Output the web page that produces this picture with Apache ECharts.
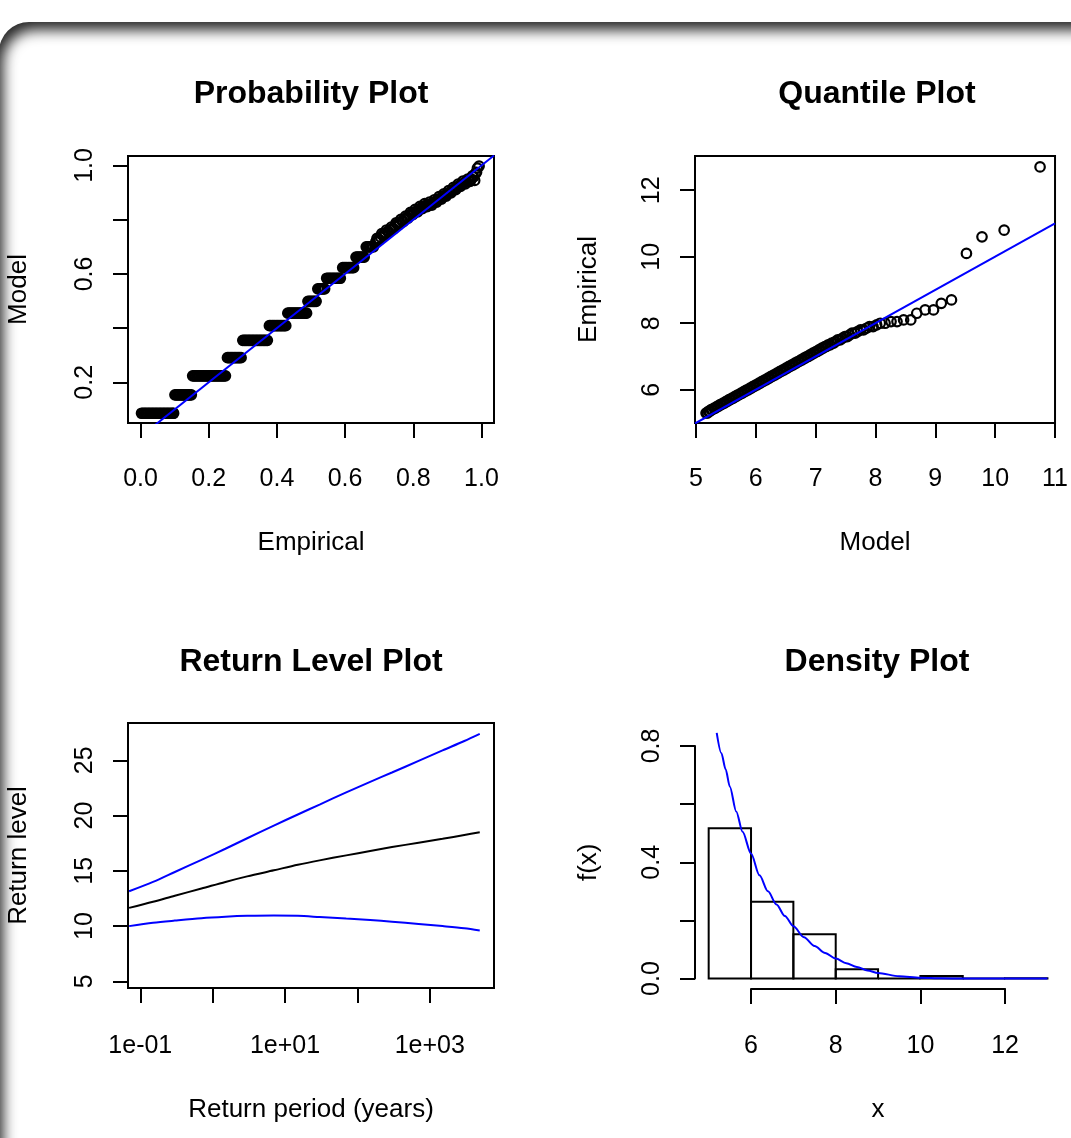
<!DOCTYPE html>
<html>
<head>
<meta charset="utf-8">
<script src="https://cdn.jsdelivr.net/npm/echarts@6/dist/echarts.min.js"></script>
<style>
  html, body { margin: 0; padding: 0; background: #fff; overflow: hidden; }
  #frame {
    position: absolute; left: -1px; top: 22px; width: 1300px; height: 1400px;
    border-radius: 30px;
    box-shadow: inset 6px 10px 14px -2px rgba(0, 0, 0, 0.85);
  }
  #chart { position: absolute; left: 0; top: 0; width: 1071px; height: 1138px; }
</style>
</head>
<body>
<div id="frame"></div>
<div id="chart"></div>
<script>
const FONT = 'Liberation Sans';

// Probability plot: tied observations share one model probability (the steps)
const probStepModel = [0.086, 0.154, 0.224, 0.291, 0.355, 0.409, 0.455, 0.499, 0.545, 0.584, 0.623, 0.662, 0.700];
const probStepEmpirical = [
  [0.003, 0.007, 0.011, 0.015, 0.019, 0.023, 0.027, 0.031, 0.035, 0.039, 0.043, 0.047, 0.051,
   0.055, 0.059, 0.063, 0.067, 0.071, 0.075, 0.079, 0.083, 0.087, 0.091, 0.095, 0.097],
  [0.101, 0.105, 0.109, 0.113, 0.117, 0.121, 0.125, 0.129, 0.133, 0.137, 0.141, 0.145, 0.149],
  [0.153, 0.157, 0.161, 0.165, 0.169, 0.173, 0.177, 0.181, 0.185, 0.189, 0.193, 0.197, 0.201,
   0.205, 0.209, 0.213, 0.217, 0.221, 0.225, 0.229, 0.233, 0.237, 0.241, 0.245, 0.249],
  [0.255, 0.259, 0.263, 0.267, 0.271, 0.275, 0.279, 0.283, 0.287, 0.291, 0.295],
  [0.300, 0.304, 0.308, 0.312, 0.316, 0.320, 0.324, 0.328, 0.332, 0.336, 0.340, 0.344, 0.348,
   0.352, 0.356, 0.360, 0.364, 0.368, 0.372],
  [0.378, 0.382, 0.386, 0.390, 0.394, 0.398, 0.402, 0.406, 0.410, 0.414, 0.418, 0.422, 0.426],
  [0.432, 0.436, 0.440, 0.444, 0.448, 0.452, 0.456, 0.460, 0.464, 0.468, 0.472, 0.476, 0.480, 0.484, 0.487],
  [0.491, 0.495, 0.499, 0.503, 0.507, 0.511, 0.515],
  [0.520, 0.524, 0.528, 0.532, 0.536, 0.540],
  [0.546, 0.550, 0.554, 0.558, 0.562, 0.566, 0.570, 0.574, 0.578, 0.582, 0.586],
  [0.593, 0.597, 0.601, 0.605, 0.609, 0.613, 0.617, 0.621, 0.625],
  [0.632, 0.636, 0.640, 0.644, 0.648, 0.652, 0.656],
  [0.662, 0.666, 0.670, 0.674, 0.678, 0.683]
];
// upper part of the probability plot (few ties): [empirical, model]
const probUpper = [
  [0.690, 0.718], [0.6935, 0.731], [0.697, 0.727], [0.7005, 0.726], [0.704, 0.736], [0.7075, 0.749],
  [0.711, 0.745], [0.7145, 0.742], [0.718, 0.750], [0.7215, 0.762], [0.725, 0.757], [0.7285, 0.754],
  [0.732, 0.762], [0.7355, 0.773], [0.739, 0.768], [0.7425, 0.766], [0.746, 0.776], [0.7495, 0.788],
  [0.753, 0.784], [0.7565, 0.781], [0.760, 0.790], [0.7635, 0.801], [0.767, 0.796], [0.7705, 0.793],
  [0.774, 0.802], [0.7775, 0.813], [0.781, 0.808], [0.7845, 0.806], [0.788, 0.816], [0.7915, 0.827],
  [0.795, 0.822], [0.7985, 0.819], [0.802, 0.827], [0.8055, 0.838], [0.809, 0.832], [0.8125, 0.829],
  [0.816, 0.838], [0.8195, 0.849], [0.823, 0.844], [0.8265, 0.841], [0.830, 0.849], [0.8335, 0.859],
  [0.837, 0.853], [0.8405, 0.848], [0.844, 0.855], [0.8475, 0.865], [0.851, 0.858], [0.8545, 0.854],
  [0.858, 0.862], [0.8615, 0.873], [0.865, 0.868], [0.8685, 0.865], [0.872, 0.874], [0.8755, 0.885],
  [0.879, 0.879], [0.8825, 0.876], [0.886, 0.884], [0.8895, 0.895], [0.893, 0.890], [0.8965, 0.887],
  [0.900, 0.896], [0.9035, 0.907], [0.907, 0.902], [0.9105, 0.899], [0.914, 0.908], [0.9175, 0.919],
  [0.921, 0.914], [0.9245, 0.911], [0.928, 0.920], [0.9315, 0.931], [0.935, 0.926], [0.9385, 0.923],
  [0.942, 0.931], [0.9455, 0.942], [0.949, 0.936], [0.9525, 0.932], [0.956, 0.940], [0.9595, 0.950],
  [0.963, 0.944], [0.9665, 0.941], [0.970, 0.950], [0.9735, 0.962], [0.977, 0.958], [0.980, 0.945],
  [0.983, 0.972], [0.9855, 0.975], [0.988, 0.990], [0.993, 0.998]
];

// Quantile plot: empirical values and the model quantiles of the tied observations
const qqLevels = [
  5.30, 5.35, 5.40, 5.45, 5.50, 5.55, 5.60, 5.65, 5.70, 5.75, 5.80, 5.85, 5.90, 5.95,
  6.00, 6.05, 6.10, 6.15, 6.20, 6.25, 6.30, 6.35, 6.40, 6.45, 6.50, 6.55, 6.60, 6.65,
  6.70, 6.75, 6.80, 6.85, 6.90, 6.95, 7.00, 7.05, 7.10, 7.15, 7.20, 7.25, 7.30, 7.35,
  7.40, 7.45, 7.50, 7.55, 7.60, 7.65, 7.70, 7.75, 7.80, 7.85, 7.90, 7.95, 8.00, 8.05,
  8.10, 8.30, 8.40, 8.60, 8.70, 10.1, 10.6, 10.8, 12.7
];
const qqModelByLevel = [
  [5.17, 5.19], [5.21, 5.23], [5.255, 5.275], [5.305, 5.325], [5.355, 5.375], [5.405, 5.425],
  [5.455, 5.475], [5.505, 5.525], [5.555, 5.575], [5.605, 5.625], [5.655, 5.675], [5.705, 5.725],
  [5.755, 5.775], [5.805, 5.825], [5.855, 5.875], [5.905, 5.925], [5.955, 5.975], [6.005, 6.025],
  [6.055, 6.075], [6.105, 6.125], [6.155, 6.175], [6.205, 6.225], [6.255, 6.275], [6.305, 6.325],
  [6.355, 6.375], [6.405, 6.425], [6.455, 6.475], [6.505, 6.525], [6.555, 6.575], [6.605, 6.625],
  [6.655, 6.675], [6.705, 6.725], [6.755, 6.775], [6.805, 6.825], [6.855, 6.875], [6.905, 6.925],
  [6.955, 6.975], [7.005, 7.025], [7.055, 7.075], [7.105, 7.125], [7.155, 7.175], [7.21, 7.24],
  [7.27, 7.30], [7.33], [7.37, 7.41], [7.45], [7.49, 7.53], [7.57], [7.61, 7.66], [7.70],
  [7.75, 7.80], [7.85], [7.90, 7.96], [8.02], [8.08, 8.16], [8.26, 8.36],
  [8.47, 8.59], [8.69], [8.83, 8.97], [9.10], [9.27], [9.52], [9.78], [10.15], [10.75]
];

// Return level plot (return period in years, log axis)
const rlPeriod = [0.07, 0.15, 0.3, 0.7, 1.5, 3, 7, 15, 30, 70, 150, 300, 700, 1500, 3000, 4900];
const rlUpper = [13.15, 14.0, 14.9, 16.0, 17.0, 17.95, 19.1, 20.1, 21.0, 22.1, 23.05, 23.9, 24.95, 25.9, 26.75, 27.4];
const rlFit   = [11.65, 12.2, 12.75, 13.4, 14.0, 14.5, 15.05, 15.55, 15.95, 16.4, 16.8, 17.15, 17.55, 17.9, 18.25, 18.5];
const rlLower = [10.0, 10.3, 10.5, 10.72, 10.85, 10.93, 10.97, 10.93, 10.82, 10.68, 10.55, 10.4, 10.2, 10.0, 9.8, 9.6];

// Density plot: histogram + fitted density
const histBreaks = [5, 6, 7, 8, 9, 10, 11, 12, 13];
const histDensity = [0.517, 0.264, 0.152, 0.032, 0, 0.009, 0, 0.001];
const densX = [5.19, 5.3, 5.4, 5.5, 5.65, 5.8, 6.0, 6.2, 6.4, 6.6, 6.8, 7.0, 7.25, 7.5, 7.75, 8.0, 8.25, 8.5, 8.75, 9.0, 9.5, 10.0, 10.5, 11, 12, 13];
const densY = [0.845, 0.775, 0.72, 0.66, 0.575, 0.505, 0.43, 0.355, 0.30, 0.255, 0.215, 0.18, 0.142, 0.112, 0.088, 0.069, 0.053, 0.040, 0.028, 0.019, 0.008, 0.003, 0.001, 0, 0, 0];

// tick positions / labelled ticks
const probTicksX = [0, 0.2, 0.4, 0.6, 0.8, 1.0];
const probTicksY = [0.2, 0.4, 0.6, 0.8, 1.0];
const probLabelsY = [0.2, 0.6, 1.0];
const qqTicksX = [5, 6, 7, 8, 9, 10, 11];
const qqTicksY = [6, 8, 10, 12];
const rlTicksX = [0.1, 1, 10, 100, 1000];
const rlLabelsX = [0.1, 10, 1000];
const rlTickText = ['1e-01', '1e+01', '1e+03'];
const rlTicksY = [5, 10, 15, 20, 25];
const dTicksX = [6, 8, 10, 12];
const dTicksY = [0, 0.2, 0.4, 0.6, 0.8];
const dLabelsY = [0, 0.4, 0.8];

// plot regions (R plot regions)
const box = {
  prob: { left: 128, top: 156, width: 366, height: 267, x: [-0.0367, 1.0367], y: [0.05, 1.035] },
  qq:   { left: 695, top: 156, width: 365, height: 267, x: [4.985, 11.0], y: [5.0, 13.03] },
  rl:   { left: 128, top: 723, width: 366, height: 265, x: [0.0676, 7709], y: [4.40, 28.38] },
  dens: { left: 695, top: 723, width: 366, height: 266, x: [4.677, 13.32], y: [-0.036, 0.879] }
};
const d = box.dens;
const dpx = v => d.left + (v - d.x[0]) / (d.x[1] - d.x[0]) * d.width;
const dpy = v => d.top + (d.y[1] - v) / (d.y[1] - d.y[0]) * d.height;

const zip = (a, b) => a.map((v, i) => [v, b[i]]);

const probPoints = [];
probStepEmpirical.forEach((xs, i) => xs.forEach(x => probPoints.push([x, probStepModel[i]])));
probUpper.forEach(p => probPoints.push(p));

const qqPoints = [];
qqModelByLevel.forEach((xs, i) => xs.forEach(x => qqPoints.push([x, qqLevels[i]])));

function grid(b, show) {
  return { left: b.left, top: b.top, width: b.width, height: b.height, show: show,
           borderColor: '#000', borderWidth: 2, backgroundColor: 'transparent' };
}

function axis(gridIndex, type, range, ticks, labels, fmt, opt) {
  opt = opt || {};
  return {
    type: type, gridIndex: gridIndex, min: range[0], max: range[1],
    logBase: 10,
    axisLine: { show: !!opt.line, onZero: false, lineStyle: { color: '#000', width: 2 } },
    splitLine: { show: false },
    axisTick: { show: true, inside: false, length: 15, customValues: ticks,
                lineStyle: { color: '#000', width: 2 } },
    axisLabel: { show: true, customValues: labels, formatter: fmt, margin: opt.margin,
                 rotate: opt.rotate || 0, fontSize: 25, fontFamily: FONT, color: '#000' },
    name: opt.name, nameLocation: 'middle', nameGap: opt.nameGap,
    nameTextStyle: { fontSize: 26, fontFamily: FONT, color: '#000' }
  };
}
const hidden = (gridIndex, range) => ({ type: 'value', gridIndex: gridIndex, min: range[0], max: range[1], show: false });

const fmt1 = v => v.toFixed(1);
const fmtInt = v => String(v);
const fmtExp = v => rlTickText[rlLabelsX.indexOf(v)] || '';

const ringStyle = { color: 'rgba(0,0,0,0)', borderColor: '#000', borderWidth: 2.2, opacity: 1 };
const blueLine = { color: '#0000ff', width: 2 };

const chart = echarts.init(document.getElementById('chart'), null, { width: 1071, height: 1138 });

const titleStyle = { fontSize: 32, fontWeight: 'bold', fontFamily: FONT, color: '#000' };
const option = {
  animation: false,
  backgroundColor: 'transparent',
  title: [
    { text: 'Probability Plot', left: 311, top: 78, textAlign: 'center', padding: 0, textStyle: titleStyle },
    { text: 'Quantile Plot', left: 877, top: 78, textAlign: 'center', padding: 0, textStyle: titleStyle },
    { text: 'Return Level Plot', left: 311, top: 646, textAlign: 'center', padding: 0, textStyle: titleStyle },
    { text: 'Density Plot', left: 877, top: 646, textAlign: 'center', padding: 0, textStyle: titleStyle }
  ],
  grid: [
    grid(box.prob, true),
    grid(box.qq, true),
    grid(box.rl, true),
    grid(box.dens, false),
    // axis lines of the density plot only span their ticks
    { left: dpx(6), top: d.top, width: dpx(12) - dpx(6), height: d.height, show: false },
    { left: d.left, top: dpy(0.8), width: d.width, height: dpy(0) - dpy(0.8), show: false }
  ],
  xAxis: [
    axis(0, 'value', box.prob.x, probTicksX, probTicksX, fmt1, { margin: 44, name: 'Empirical', nameGap: 107 }),
    axis(1, 'value', box.qq.x, qqTicksX, qqTicksX, fmtInt, { margin: 44, name: 'Model', nameGap: 107 }),
    axis(2, 'log', box.rl.x, rlTicksX, rlLabelsX, fmtExp, { margin: 46, name: 'Return period (years)', nameGap: 109 }),
    hidden(3, d.x),
    axis(4, 'value', [6, 12], dTicksX, dTicksX, fmtInt, { line: true, margin: 45, name: 'x', nameGap: 108 }),
    hidden(5, [0, 1])
  ],
  yAxis: [
    axis(0, 'value', box.prob.y, probTicksY, probLabelsY, fmt1, { margin: 30, rotate: 90, name: 'Model', nameGap: 96 }),
    axis(1, 'value', box.qq.y, qqTicksY, qqTicksY, fmtInt, { margin: 30, rotate: 90, name: 'Empirical', nameGap: 93 }),
    axis(2, 'value', box.rl.y, rlTicksY, rlTicksY, fmtInt, { margin: 30, rotate: 90, name: 'Return level', nameGap: 96 }),
    hidden(3, d.y),
    hidden(4, [0, 1]),
    axis(5, 'value', [0, 0.8], dTicksY, dLabelsY, fmt1, { line: true, margin: 30, rotate: 90, name: 'f(x)', nameGap: 93 })
  ],
  series: [
    { type: 'scatter', xAxisIndex: 0, yAxisIndex: 0, symbol: 'circle', symbolSize: 9.5,
      itemStyle: ringStyle, data: probPoints },
    { type: 'line', xAxisIndex: 0, yAxisIndex: 0, symbol: 'none', lineStyle: blueLine,
      data: box.prob.x.map(v => [v, v]) },
    { type: 'scatter', xAxisIndex: 1, yAxisIndex: 1, symbol: 'circle', symbolSize: 9.5,
      itemStyle: ringStyle, data: qqPoints },
    { type: 'line', xAxisIndex: 1, yAxisIndex: 1, symbol: 'none', lineStyle: blueLine,
      data: box.qq.x.map(v => [v, v]) },
    { type: 'line', xAxisIndex: 2, yAxisIndex: 2, symbol: 'none', smooth: 0.3, lineStyle: blueLine,
      data: zip(rlPeriod, rlUpper) },
    { type: 'line', xAxisIndex: 2, yAxisIndex: 2, symbol: 'none', smooth: 0.3, lineStyle: { color: '#000', width: 2 },
      data: zip(rlPeriod, rlFit) },
    { type: 'line', xAxisIndex: 2, yAxisIndex: 2, symbol: 'none', smooth: 0.3, lineStyle: blueLine,
      data: zip(rlPeriod, rlLower) },
    { type: 'custom', xAxisIndex: 3, yAxisIndex: 3,
      data: histDensity.map((h, i) => [histBreaks[i], histBreaks[i + 1], h]),
      renderItem: function (params, api) {
        const p0 = api.coord([api.value(0), api.value(2)]);
        const p1 = api.coord([api.value(1), 0]);
        return { type: 'rect',
                 shape: { x: p0[0], y: p0[1], width: p1[0] - p0[0], height: p1[1] - p0[1] },
                 style: { fill: 'none', stroke: '#000', lineWidth: 2 } };
      } },
    { type: 'line', xAxisIndex: 3, yAxisIndex: 3, symbol: 'none', smooth: 0.3, smoothMonotone: 'x',
      lineStyle: blueLine, data: zip(densX, densY) }
  ]
};
chart.setOption(option);
</script>
</body>
</html>
